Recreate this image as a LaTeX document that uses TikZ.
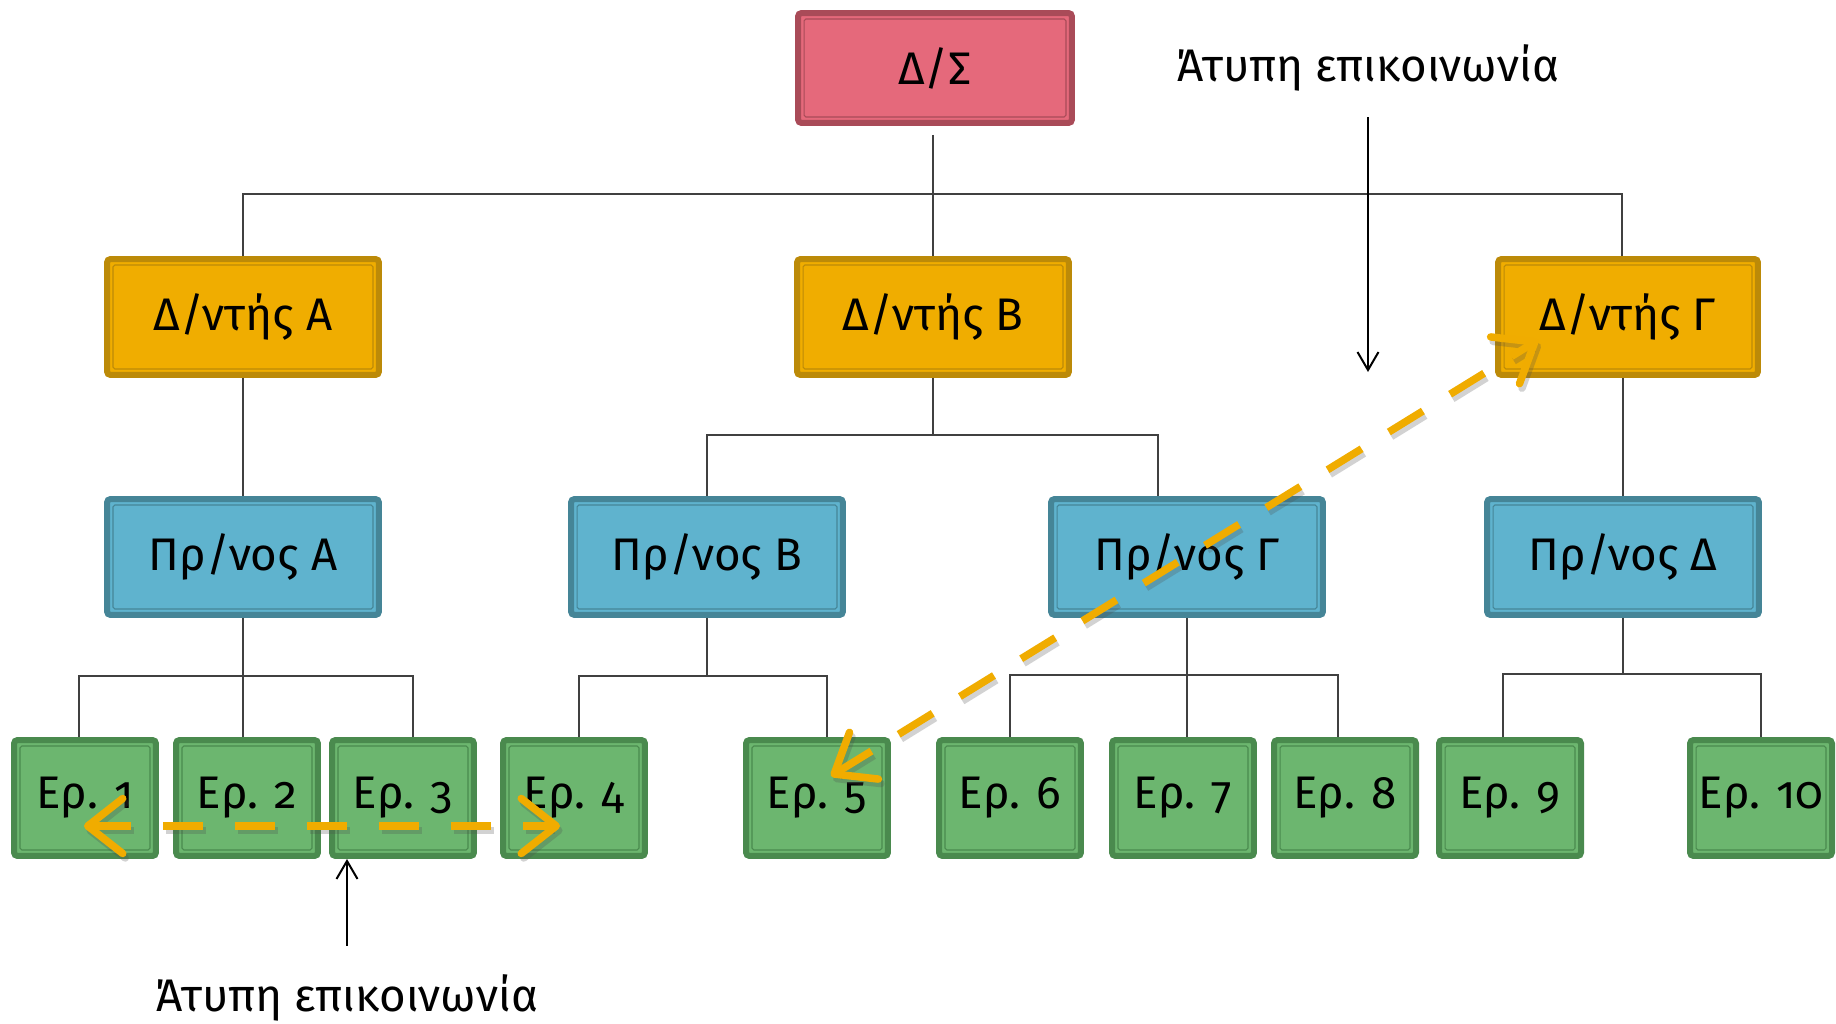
\documentclass[tikz,border=0pt]{standalone}
\usepackage{fontspec}
\setmainfont{Fira Sans}[Numbers=OldStyle]
\usetikzlibrary{arrows.meta,positioning}
\definecolor{dsfill}{HTML}{E5697B}
\definecolor{dsline}{HTML}{A94B58}
\definecolor{dirfill}{HTML}{F0AD00}
\definecolor{dirline}{HTML}{BC8A08}
\definecolor{headfill}{HTML}{5FB3CE}
\definecolor{headline}{HTML}{458597}
\definecolor{wfill}{HTML}{6CB66F}
\definecolor{wline}{HTML}{4A8A4E}
\definecolor{infcolor}{HTML}{F0AC00}
\tikzstyle{box} = [rectangle, rounded corners=2pt, line width=0.12cm, minimum height=2.32cm, text centered, font=\fontsize{26}{30}\selectfont]
\tikzstyle{board} = [box, fill=dsfill, draw=dsline, minimum width=5.48cm, minimum height=2.2cm]
\tikzstyle{director} = [box, fill=dirfill, draw=dirline, minimum width=5.44cm]
\tikzstyle{head} = [box, fill=headfill, draw=headline, minimum width=5.44cm]
\tikzstyle{worker} = [box, fill=wfill, draw=wline, minimum width=2.84cm]
\tikzstyle{conn} = [draw=black!75, line width=0.03cm]
\tikzstyle{note} = [font=\fontsize{26}{30}\selectfont]
\tikzstyle{pointer} = [draw=black, line width=0.04cm, -{Straight Barb[length=0.36cm, width=0.42cm]}]
\tikzstyle{informal} = [draw=infcolor, line width=0.15cm, dash pattern=on 0.8cm off 0.64cm,
  {Straight Barb[length=0.7cm, width=1.1cm, round]}-{Straight Barb[length=0.7cm, width=1.1cm, round]},
  preaction={draw=black!70, opacity=0.25, line width=0.15cm, dash pattern=on 0.8cm off 0.64cm,
    transform canvas={shift={(0.05cm,-0.09cm)}}}]

\begin{document}
\begin{tikzpicture}[x=0.02cm, y=-0.02cm]
    \useasboundingbox (0,0) rectangle (1836,1024);

    \node [board] (ds) at (935,68) {Δ/Σ};

    \node [director] (dA) at (243,317) {Δ/ντής A};
    \node [director] (dB) at (933,317) {Δ/ντής B};
    \node [director, minimum width=5.2cm] (dG) at (1628,317) {Δ/ντής Γ};

    \node [head] (pA) at (243,557) {Πρ/νος A};
    \node [head] (pB) at (707,557) {Πρ/νος B};
    \node [head] (pG) at (1187,557) {Πρ/νος Γ};
    \node [head] (pD) at (1623,557) {Πρ/νος Δ};

    \node [worker] (e1) at (85,798) {Ερ. 1};
    \node [worker] (e2) at (247,798) {Ερ. 2};
    \node [worker] (e3) at (403,798) {Ερ. 3};
    \node [worker] (e4) at (574,798) {Ερ. 4};
    \node [worker] (e5) at (817,798) {Ερ. 5};
    \node [worker] (e6) at (1010,798) {Ερ. 6};
    \node [worker] (e7) at (1183,798) {Ερ. 7};
    \node [worker] (e8) at (1345,798) {Ερ. 8};
    \node [worker] (e9) at (1510,798) {Ερ. 9};
    \node [worker] (e10) at (1761,798) {Ερ. 10};

    % inner frame of every box
    \foreach \n/\c in {ds/dsline, dA/dirline, dB/dirline, dG/dirline, pA/headline, pB/headline, pG/headline, pD/headline,
        e1/wline, e2/wline, e3/wline, e4/wline, e5/wline, e6/wline, e7/wline, e8/wline, e9/wline, e10/wline}
      \draw[\c, line width=0.6pt, rounded corners=1pt] ([shift={(0.18cm,0.18cm)}]\n.south west) rectangle ([shift={(-0.18cm,-0.18cm)}]\n.north east);

    % formal lines
    \draw[conn, shorten <=0.18cm] (ds.south -| dB.north) -- (dB.north);
    \draw[conn] (dA.north) -- ++(0,-62) -| ([xshift=-0.12cm]dG.north);
    \draw[conn] (dA.south) -- (pA.north);
    \draw[conn] (dB.south) -- ++(0,57) coordinate (busB);
    \draw[conn] (pB.north) |- (busB) -| ([xshift=-0.58cm]pG.north);
    \draw[conn] (pD.north) -- (pD.north |- dG.south);

    \draw[conn] (pA.south) -- ++(0,58) coordinate (busA);
    \draw[conn] ([xshift=-0.12cm]e1.north) |- (busA) -| ([xshift=0.2cm]e3.north);
    \draw[conn] (busA) -- (busA |- e2.north);
    \draw[conn] (pB.south) -- ++(0,58) coordinate (busP);
    \draw[conn] ([xshift=0.1cm]e4.north) |- (busP) -| ([xshift=0.2cm]e5.north);
    \draw[conn] (pG.south) -- ++(0,57) coordinate (busG);
    \draw[conn] (e6.north) |- (busG) -| ([xshift=-0.14cm]e8.north);
    \draw[conn] (busG) -- (busG |- e7.north);
    \draw[conn] (pD.south) -- ++(0,56) coordinate (busD);
    \draw[conn] ([xshift=-0.14cm]e9.north) |- (busD) -| (e10.north);

    % informal communication
    \node [note] (infTop) at (1368,68) {Άτυπη επικοινωνία};
    \coordinate (infTopTip) at (1368,372);
    \draw[pointer] ([yshift=-0.4cm]infTop.south) -- (infTopTip);
    \node [note] (infBot) at (347,998) {Άτυπη επικοινωνία};
    \draw[pointer] ([yshift=0.46cm]infBot.north) -- (infBot.north |- e3.south);

    \draw[informal] ([shift={(-0.02cm,-0.56cm)}]e1.center) -- ([shift={(-0.28cm,-0.56cm)}]e4.center);
    \draw[informal] ([shift={(0.28cm,0.44cm)}]e5.center) -- ([shift={(-1.8cm,-0.46cm)}]dG.center);
\end{tikzpicture}
\end{document}
